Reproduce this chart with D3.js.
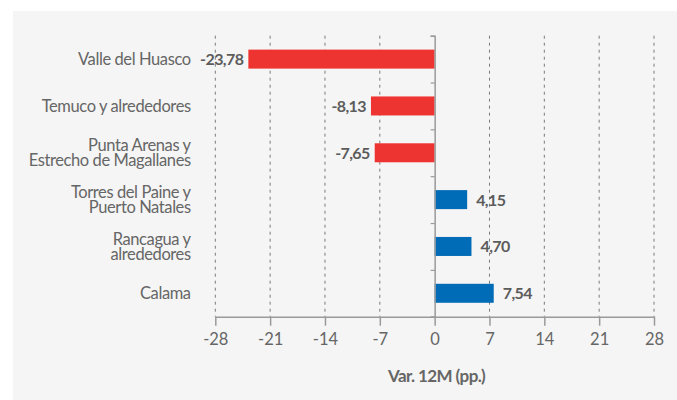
<!DOCTYPE html>
<html>
<head>
<meta charset="utf-8">
<script src="https://cdn.jsdelivr.net/npm/d3@7"></script>
<style>
  body { margin: 0; background: #fff; }
  svg { display: block; font-family: Lato, "Noto Sans", sans-serif; }
</style>
</head>
<body>
<svg id="chart" width="677" height="400"></svg>
<script>
// category labels (line breaks as in the original)
const categories = [
  ['Valle del Huasco'],
  ['Temuco y alrededores'],
  ['Punta Arenas y', 'Estrecho de Magallanes'],
  ['Torres del Paine y', 'Puerto Natales'],
  ['Rancagua y', 'alrededores'],
  ['Calama']
];
const values = [-23.78, -8.13, -7.65, 4.15, 4.70, 7.54];
const xTicks = [-28, -21, -14, -7, 0, 7, 14, 21, 28];
const axisTitle = 'Var. 12M (pp.)';

const svg = d3.select('#chart');

// light grey panel
svg.append('rect')
  .attr('x', 13).attr('y', 11)
  .attr('width', 664).attr('height', 389)
  .attr('fill', '#f5f5f5');

const x = d3.scaleLinear().domain([-28, 28]).range([215.3, 654]);
const y = d3.scaleBand()
  .domain(categories.map((d, i) => i))
  .range([35.7, 316.7])
  .padding(0);
const barH = 19;
// plain hyphen and decimal comma, like the original
const fmt = v => d3.format('.2f')(v).replace('.', ',').replace('\u2212', '-');

// dashed vertical gridlines
svg.append('g').selectAll('line')
  .data(xTicks.filter(t => t !== 0))
  .enter().append('line')
  .attr('x1', d => x(d)).attr('x2', d => x(d))
  .attr('y1', 35.7).attr('y2', 316.7)
  .attr('stroke', '#7a7a7a')
  .attr('stroke-width', 1)
  .attr('stroke-dasharray', '3,4');

// bars
svg.append('g').selectAll('rect')
  .data(values)
  .enter().append('rect')
  .attr('x', d => x(Math.min(0, d)))
  .attr('y', (d, i) => y(i) + y.bandwidth() / 2 - barH / 2)
  .attr('width', d => Math.abs(x(d) - x(0)))
  .attr('height', barH)
  .attr('fill', d => d < 0 ? '#ee3430' : '#006bb6');

// value labels
svg.append('g').selectAll('text')
  .data(values)
  .enter().append('text')
  .attr('x', d => d < 0 ? x(d) - 5 : x(d) + 9)
  .attr('y', (d, i) => y(i) + y.bandwidth() / 2 + 6)
  .attr('text-anchor', d => d < 0 ? 'end' : 'start')
  .attr('font-size', 16)
  .attr('font-weight', 'bold')
  .attr('letter-spacing', -0.6)
  .attr('fill', '#5c5c5c')
  .text(fmt);

// vertical axis at zero (band boundary ticks)
const yAxis = svg.append('g')
  .attr('transform', `translate(${x(0)},0)`)
  .call(d3.axisLeft(d3.scaleLinear().domain([0, 6]).range([35.7, 316.7]))
    .ticks(6).tickSize(4).tickFormat(''));
yAxis.select('.domain').attr('stroke', '#9a9a9a').attr('stroke-width', 1.5);
yAxis.selectAll('.tick line').attr('stroke', '#9a9a9a').attr('stroke-width', 1.2);

// category labels
const catG = svg.append('g');
categories.forEach((lines, i) => {
  const cy = y(i) + y.bandwidth() / 2;
  const lh = 15;
  const t = catG.append('text')
    .attr('text-anchor', 'end')
    .attr('font-size', 16.5)
    .attr('letter-spacing', -0.4)
    .attr('fill', '#666');
  lines.forEach((s, j) => {
    t.append('tspan')
      .attr('x', 190.7)
      .attr('y', cy + 6 + (j - (lines.length - 1) / 2) * lh)
      .text(s);
  });
});

// x axis
const xAxis = svg.append('g')
  .attr('transform', 'translate(0,316.7)')
  .call(d3.axisBottom(x).tickValues(xTicks).tickSize(9).tickPadding(8)
    .tickSizeOuter(0).tickFormat(d => String(d)));
xAxis.select('.domain').attr('stroke', '#9a9a9a').attr('stroke-width', 1.5);
xAxis.selectAll('.tick line').attr('stroke', '#9a9a9a').attr('stroke-width', 1.5);
xAxis.selectAll('.tick text')
  .attr('font-size', 16.5)
  .attr('font-family', 'Lato, sans-serif')
  .attr('fill', '#666');

// axis title
svg.append('text')
  .attr('x', x(0) + 2)
  .attr('y', 382)
  .attr('text-anchor', 'middle')
  .attr('font-size', 17)
  .attr('font-weight', 'bold')
  .attr('letter-spacing', -0.6)
  .attr('fill', '#666')
  .text(axisTitle);
</script>
</body>
</html>
